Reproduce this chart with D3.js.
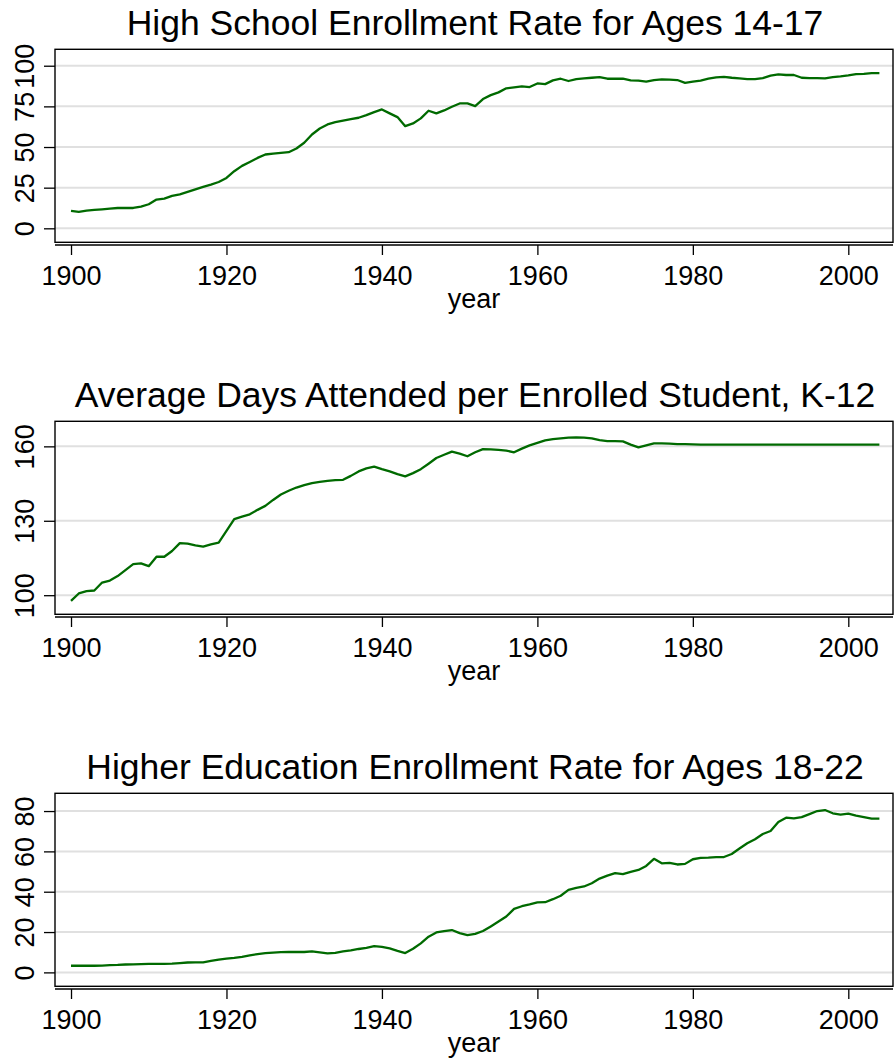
<!DOCTYPE html>
<meta charset="utf-8">
<style>
body { margin: 0; background: #fff; }
svg text { font-family: Arial, "Liberation Sans", sans-serif; fill: #000; }
</style>
<body>
<script src="https://cdn.jsdelivr.net/npm/d3@7"></script>
<script>

var years = d3.range(1900, 2005);
var xTicks = [1900, 1920, 1940, 1960, 1980, 2000];

// High school enrollment rate, ages 14-17 (%)
var hsEnroll = [
  10.7, 10.1, 10.9, 11.3, 11.7, 12.1, 12.5, 12.5, 12.5, 13.4,
  14.8, 17.7, 18.3, 19.9, 20.9, 22.4, 24.0, 25.5, 26.9, 28.5,
  31.0, 35.1, 38.4, 40.8, 43.3, 45.4, 46.0, 46.4, 46.8, 49.1,
  52.6, 57.7, 61.4, 63.9, 65.3, 66.3, 67.2, 68.0, 69.6, 71.5,
  73.1, 70.7, 68.4, 62.8, 64.5, 67.6, 72.3, 70.7, 72.5, 74.8,
  76.8, 76.8, 75.2, 79.5, 81.9, 83.6, 86.1, 86.7, 87.3, 86.9,
  89.1, 88.7, 91.0, 92.0, 90.6, 91.8, 92.2, 92.6, 93.0, 92.0,
  92.0, 92.0, 91.0, 90.8, 90.2, 91.2, 91.6, 91.4, 91.2, 89.5,
  90.2, 90.8, 92.0, 92.8, 93.2, 92.6, 92.2, 91.8, 91.8, 92.4,
  93.9, 94.7, 94.3, 94.3, 92.6, 92.4, 92.4, 92.2, 93.0, 93.4,
  94.0, 94.8, 95.0, 95.5, 95.5
];

// Average days attended per enrolled student, K-12
var daysAttended = [
  97.7, 100.7, 101.6, 101.9, 105.1, 105.9, 107.7, 110.1, 112.5, 112.8,
  111.7, 115.5, 115.5, 117.8, 121.0, 120.8, 120.1, 119.6, 120.5, 121.2,
  125.9, 130.7, 131.7, 132.6, 134.4, 136.0, 138.4, 140.6, 142.1, 143.4,
  144.4, 145.2, 145.7, 146.1, 146.4, 146.5, 148.1, 149.9, 151.1, 151.8,
  150.8, 149.9, 148.8, 147.9, 149.2, 150.8, 153.0, 155.3, 156.6, 157.9,
  157.1, 156.0, 157.6, 158.9, 158.8, 158.6, 158.3, 157.6, 159.1, 160.4,
  161.4, 162.4, 162.9, 163.2, 163.5, 163.6, 163.5, 163.2, 162.5, 162.1,
  162.1, 162.0, 160.7, 159.6, 160.4, 161.2, 161.2, 161.1, 160.9, 160.9,
  160.8, 160.7, 160.7, 160.7, 160.7, 160.7, 160.7, 160.7, 160.7, 160.7,
  160.7, 160.7, 160.7, 160.7, 160.7, 160.7, 160.7, 160.7, 160.7, 160.7,
  160.7, 160.7, 160.7, 160.7, 160.7
];

// Higher education enrollment rate, ages 18-22 (%)
var higherEd = [
  3.3, 3.3, 3.3, 3.3, 3.4, 3.6, 3.7, 3.9, 4.0, 4.1,
  4.2, 4.2, 4.2, 4.3, 4.6, 4.9, 5.0, 5.0, 5.7, 6.3,
  6.8, 7.2, 7.7, 8.4, 9.1, 9.5, 9.8, 10.0, 10.1, 10.1,
  10.1, 10.4, 9.9, 9.4, 9.7, 10.4, 10.9, 11.6, 12.2, 13.0,
  12.6, 11.9, 10.7, 9.6, 11.7, 14.4, 17.7, 19.8, 20.5, 21.0,
  19.5, 18.5, 19.1, 20.5, 22.8, 25.2, 27.7, 31.5, 32.8, 33.7,
  34.7, 34.8, 36.3, 38.0, 40.9, 41.9, 42.6, 44.2, 46.5, 48.0,
  49.2, 48.7, 49.8, 50.8, 52.8, 56.3, 54.1, 54.3, 53.5, 53.8,
  56.1, 56.8, 56.9, 57.2, 57.2, 58.7, 61.4, 64.0, 66.0, 68.6,
  70.1, 74.6, 76.7, 76.4, 77.0, 78.5, 80.0, 80.5, 78.9, 78.2,
  78.7, 77.7, 77.0, 76.2, 76.2
];

var titles = [
  "High School Enrollment Rate for Ages 14-17",
  "Average Days Attended per Enrolled Student, K-12",
  "Higher Education Enrollment Rate for Ages 18-22"
];
var yTicks = [[0, 25, 50, 75, 100], [100, 130, 160], [0, 20, 40, 60, 80]];
var yDomains = [[-8.6, 110.1], [92.3, 170.1], [-6.9, 88.8]];
var seriesList = [hsEnroll, daysAttended, higherEd];

var W = 894, H = 1064;
var left = 55, right = 893, panelH = 193, firstTop = 49.3, step = 372;

var svg = d3.select("body").append("svg")
  .attr("width", W)
  .attr("height", H);

var x = d3.scaleLinear().domain([1897.94, 2005.75]).range([left, right]);

function drawPanel(i) {
  var top = firstTop + step * i;
  var bottom = top + panelH;
  var g = svg.append("g");

  var y = d3.scaleLinear().domain(yDomains[i]).range([bottom, top]);

  // title
  g.append("text")
    .attr("x", 475)
    .attr("y", top - 14.4)
    .attr("text-anchor", "middle")
    .style("font-size", "35.5px")
    .text(titles[i]);

  // grid lines
  g.selectAll(".grid")
    .data(yTicks[i])
    .enter().append("line")
    .attr("x1", left).attr("x2", right)
    .attr("y1", function(d) { return y(d); })
    .attr("y2", function(d) { return y(d); })
    .attr("stroke", "#e0e0e0")
    .attr("stroke-width", 2);

  // y axis (ticks + rotated labels)
  var yAxis = g.append("g")
    .attr("transform", "translate(" + left + ",0)")
    .call(d3.axisLeft(y).tickValues(yTicks[i]).tickSize(11).tickFormat(d3.format("d")));
  yAxis.select(".domain").remove();
  yAxis.selectAll("line").attr("stroke", "#000").attr("stroke-width", 1.3);
  yAxis.selectAll("text")
    .attr("x", null).attr("dy", null).attr("y", null)
    .attr("transform", "translate(-21,0) rotate(-90)")
    .attr("text-anchor", "middle")
    .style("font-size", "27px")
    .style("font-family", "Arial, 'Liberation Sans', sans-serif");

  // x axis, drawn a little below the plot frame
  var xAxis = g.append("g")
    .attr("transform", "translate(0," + (bottom + 2.7) + ")")
    .call(d3.axisBottom(x).tickValues(xTicks).tickSize(10).tickSizeOuter(0).tickFormat(d3.format("d")));
  xAxis.select(".domain").attr("stroke", "#000").attr("stroke-width", 1.3)
    .attr("d", "M" + left + ",0H" + right);
  xAxis.selectAll("line").attr("stroke", "#000").attr("stroke-width", 1.3);
  xAxis.selectAll("text")
    .attr("y", 40.3).attr("dy", null)
    .style("font-size", "27px")
    .style("font-family", "Arial, 'Liberation Sans', sans-serif");

  g.append("text")
    .attr("x", 474)
    .attr("y", bottom + 66)
    .attr("text-anchor", "middle")
    .style("font-size", "27px")
    .text("year");

  // series line
  var line = d3.line()
    .x(function(d, k) { return x(years[k]); })
    .y(function(d) { return y(d); });

  g.append("path")
    .datum(seriesList[i])
    .attr("d", line)
    .attr("fill", "none")
    .attr("stroke", "#006a00")
    .attr("stroke-width", 2.3)
    .attr("stroke-linejoin", "round");

  // plot frame
  g.append("rect")
    .attr("x", left).attr("y", top)
    .attr("width", right - left).attr("height", panelH)
    .attr("fill", "none")
    .attr("stroke", "#000")
    .attr("stroke-width", 1.4);
}

[0, 1, 2].forEach(drawPanel);

</script>
